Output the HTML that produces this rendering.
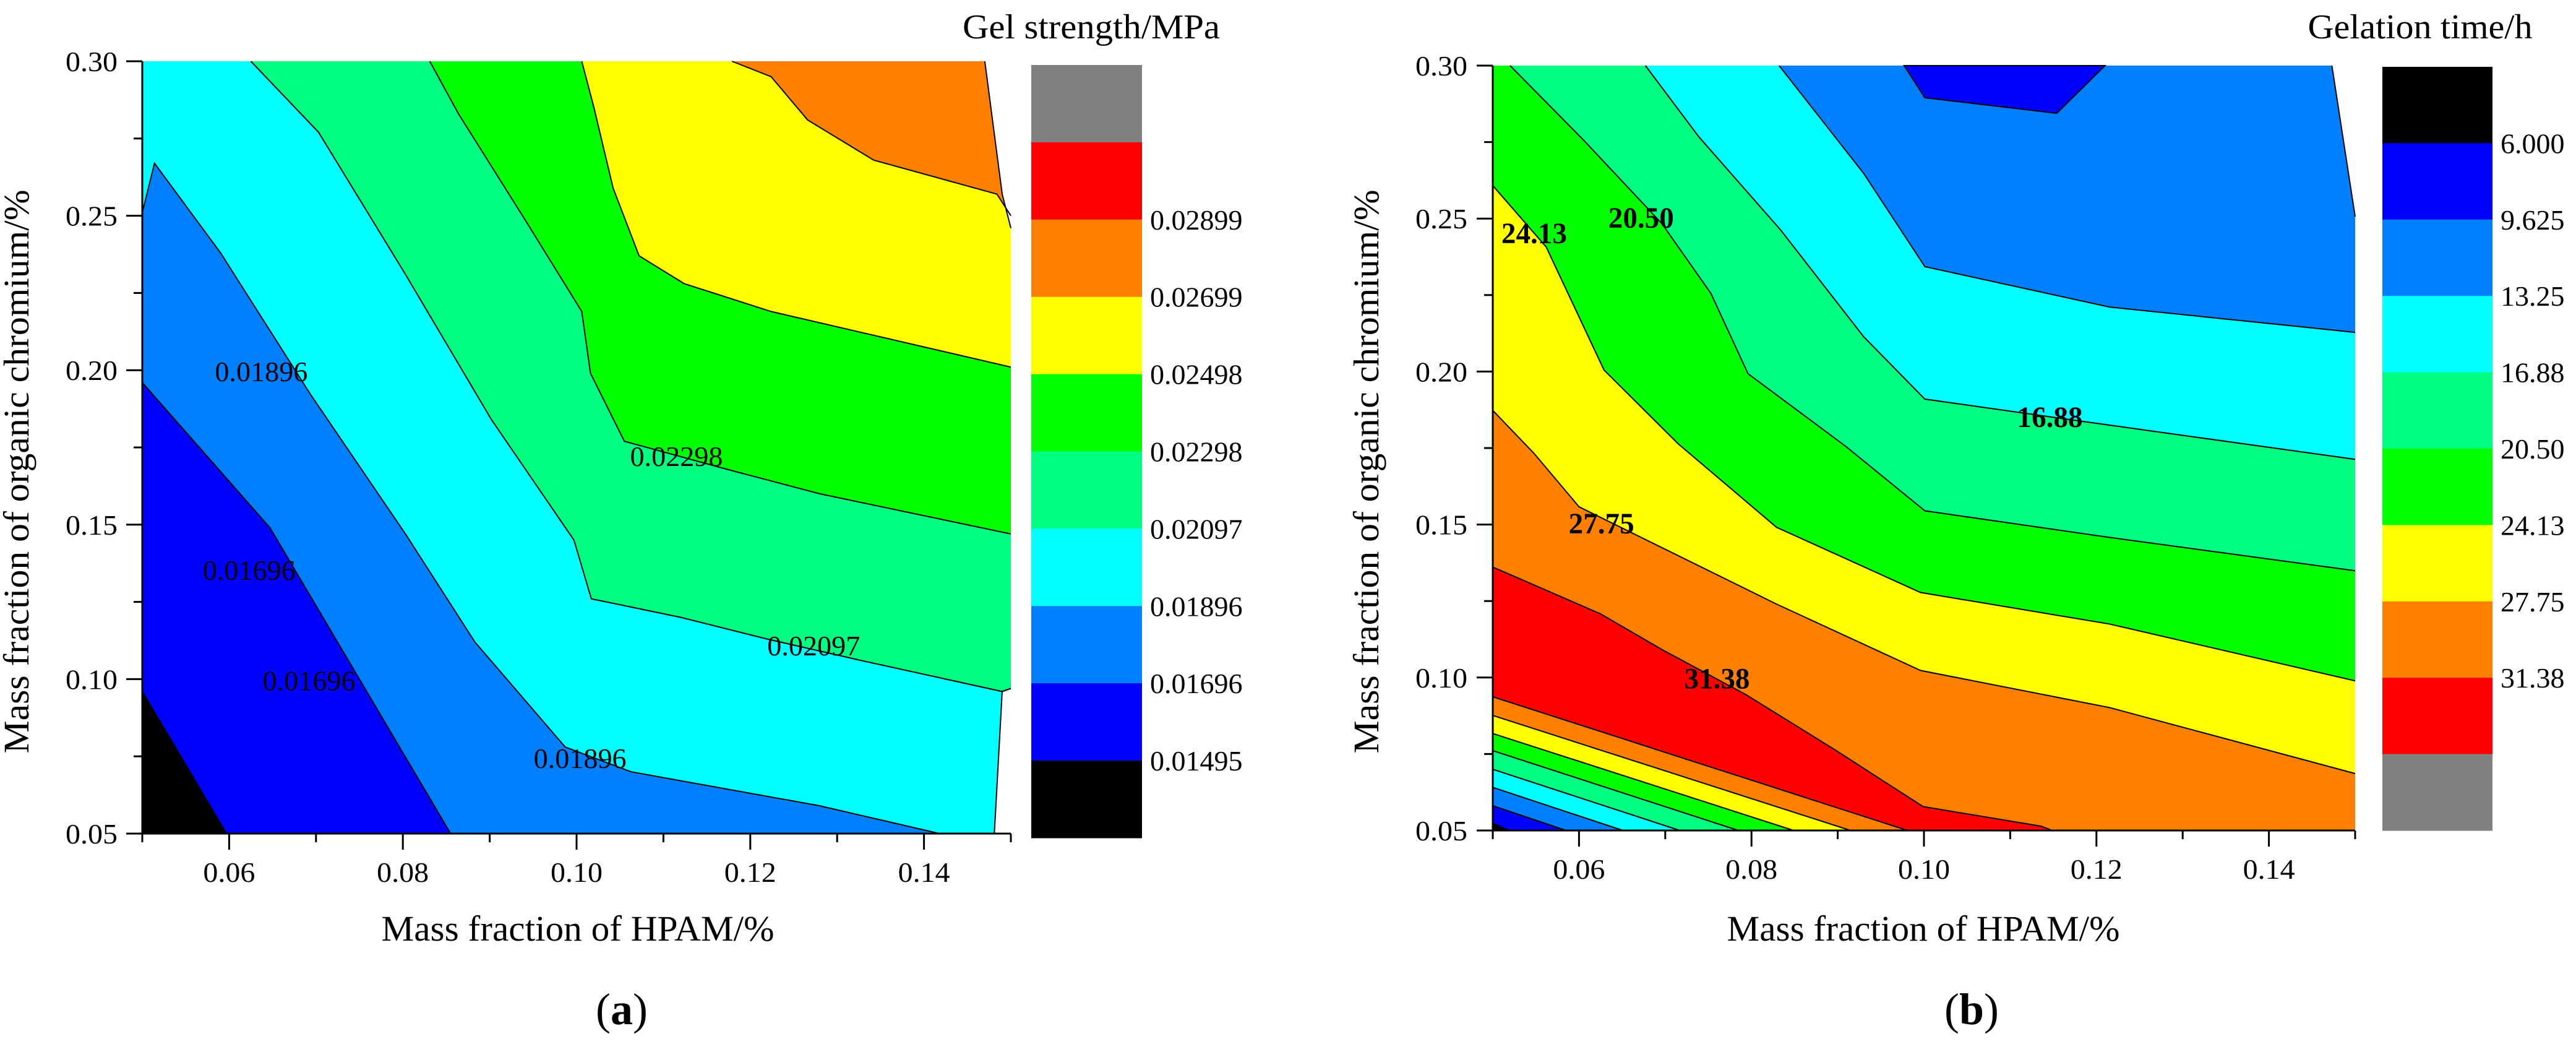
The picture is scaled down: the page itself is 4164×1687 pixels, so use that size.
<!DOCTYPE html>
<html><head><meta charset="utf-8"><style>
html,body{margin:0;padding:0;background:#fff;}
svg{display:block;font-family:"Liberation Serif",serif;}
</style></head><body>
<svg id="fig" xmlns="http://www.w3.org/2000/svg" width="4164" height="1687" viewBox="0 0 4164 1687">
<rect width="4164" height="1687" fill="#fff"/>
<g id="left"></g>
<g id="right"></g>
</svg>
<script>
// ---------- data: panel (a) ----------
const leftColors = ["#000000","#0000ff","#0080ff","#00ffff","#00ff80","#00ff00","#ffff00","#ff8000"];
const leftBarColors = ["#808080","#ff0000","#ff8000","#ffff00","#00ff00","#00ff80","#00ffff","#0080ff","#0000ff","#000000"];
const leftBarLabels = ["0.02899","0.02699","0.02498","0.02298","0.02097","0.01896","0.01696","0.01495"];
const leftL1 = [[0.05,0.096],[0.0597,0.05]];
const leftL2 = [[0.05,0.196],[0.0647,0.149],[0.0855,0.05]];
const leftL3 = [[0.05,0.251],[0.0514,0.267],[0.059,0.238],[0.0694,0.192],[0.0803,0.147],[0.0883,0.112],[0.0987,0.078],[0.1063,0.070],[0.128,0.059],[0.1418,0.05]];
const leftL4 = [[0.0625,0.30],[0.0703,0.277],[0.0803,0.231],[0.0902,0.184],[0.0997,0.145],[0.1017,0.126],[0.112,0.120],[0.1219,0.113],[0.1328,0.106],[0.149,0.096],[0.15,0.097]];
const leftL5 = [[0.0831,0.30],[0.0864,0.283],[0.094,0.249],[0.1006,0.219],[0.1016,0.199],[0.1055,0.177],[0.1172,0.168],[0.128,0.160],[0.15,0.147]];
const leftL6 = [[0.1006,0.30],[0.102,0.285],[0.1042,0.259],[0.1072,0.237],[0.1124,0.228],[0.1224,0.219],[0.15,0.201]];
const leftL7 = [[0.1179,0.30],[0.1224,0.295],[0.1266,0.281],[0.1342,0.268],[0.1484,0.257],[0.15,0.25]];
const leftWhiteTop = [[0.147,0.30],[0.149,0.257],[0.15,0.246],[0.15,0.30]];
const leftWhiteBot = [[0.15,0.097],[0.149,0.096],[0.1481,0.05],[0.15,0.05]];
const leftLabelText = ["0.01896","0.02298","0.01696","0.01696","0.02097","0.01896"];
const leftLabelX = [0.0637,0.1115,0.0623,0.0692,0.1273,0.1004];
const leftLabelY = [0.1996,0.1722,0.1353,0.0996,0.1109,0.0744];
// ---------- data: panel (b) ----------
const rightBarColors = ["#000000","#0000ff","#0080ff","#00ffff","#00ff80","#00ff00","#ffff00","#ff8000","#ff0000","#808080"];
const rightBarLabels = ["6.000","9.625","13.25","16.88","20.50","24.13","27.75","31.38"];
const rBlue = [[0.0977,0.30],[0.1001,0.2895],[0.1154,0.2844],[0.121,0.30]];
const r1325 = [[0.0832,0.30],[0.093,0.2648],[0.1001,0.2343],[0.1215,0.2211],[0.15,0.2128]];
const r1688 = [[0.0677,0.30],[0.0739,0.2767],[0.0834,0.2462],[0.093,0.2114],[0.1001,0.191],[0.1149,0.1851],[0.15,0.1713]];
const r2050 = [[0.052,0.30],[0.0605,0.2757],[0.0696,0.2484],[0.0753,0.2255],[0.0796,0.1993],[0.091,0.1754],[0.1001,0.1545],[0.1215,0.1458],[0.15,0.1349]];
const r2413 = [[0.05,0.2608],[0.0562,0.2407],[0.0629,0.2005],[0.0715,0.1764],[0.0829,0.1491],[0.0996,0.1278],[0.1215,0.1175],[0.15,0.0989]];
const r2775 = [[0.05,0.1873],[0.0548,0.1732],[0.06,0.1558],[0.0829,0.124],[0.0996,0.1023],[0.1215,0.0902],[0.15,0.0686]];
const r3138 = [[0.05,0.1361],[0.0625,0.1208],[0.0697,0.109],[0.0793,0.0945],[0.0895,0.0767],[0.0999,0.0578],[0.1136,0.0514],[0.1149,0.05]];
const rH = [[0.05,0.0937],[0.0981,0.05]];
const rG = [[0.05,0.0876],[0.0915,0.05]];
const rF = [[0.05,0.0817],[0.0849,0.05]];
const rE = [[0.05,0.0761],[0.0785,0.05]];
const rD = [[0.05,0.070],[0.0717,0.05]];
const rC = [[0.05,0.0641],[0.0651,0.05]];
const rB = [[0.05,0.0581],[0.0585,0.05]];
const rA = [[0.05,0.0524],[0.0519,0.05]];
const rightLineColors = ["#00ffff","#00ff80","#00ff00","#ffff00","#ff8000","#ff0000","#ff8000","#ffff00","#00ff00","#00ff80","#00ffff","#0080ff","#0000ff","#000000"];
const rWhite = [[0.1473,0.30],[0.15,0.2506],[0.15,0.30]];
const rightLabelText = ["24.13","20.50","16.88","27.75","31.38"];
const rightLabelX = [0.0548,0.0672,0.1146,0.0626,0.076];
const rightLabelY = [0.2452,0.2502,0.1851,0.1503,0.0997];
const xTickVals = [0.06,0.08,0.10,0.12,0.14];
const xTickText = ["0.06","0.08","0.10","0.12","0.14"];
const yTickVals = [0.05,0.10,0.15,0.20,0.25,0.30];
const yTickText = ["0.05","0.10","0.15","0.20","0.25","0.30"];

const NS="http://www.w3.org/2000/svg";
const XMIN=0.05,XMAX=0.15,YMIN=0.05,YMAX=0.30;
function mk(parent,tag,attrs){const e=document.createElementNS(NS,tag);for(const k in attrs)e.setAttribute(k,attrs[k]);parent.appendChild(e);return e;}
function tparam(p){const e=1e-4;const[x,y]=p;
 if(Math.abs(y-YMAX)<e)return (x-XMIN)/(XMAX-XMIN);
 if(Math.abs(x-XMAX)<e)return 1+(YMAX-y)/(YMAX-YMIN);
 if(Math.abs(y-YMIN)<e)return 2+(XMAX-x)/(XMAX-XMIN);
 return 3+(y-YMIN)/(YMAX-YMIN);}
const corners={1:[XMAX,YMAX],2:[XMAX,YMIN],3:[XMIN,YMIN],0:[XMIN,YMAX]};
function closeCW(line){const te=tparam(line[line.length-1]);let ts=tparam(line[0]);if(ts<=te)ts+=4;
 const pts=line.slice();for(let k=Math.floor(te)+1;k<ts;k++)pts.push(corners[k%4]);return pts;}

function panel(g,X,Y){
 return {pts:(arr)=>arr.map(p=>X(p[0]).toFixed(1)+","+Y(p[1]).toFixed(1)).join(" ")};
}
function axes(g,X,Y,ylabRight,xTitle,yTitle,xTitleCx,yTitleCx,letter,letterX){
 // ticks
 for(let v=0.05;v<=0.1501;v+=0.01){const major=Math.abs((v*100)%2)<0.01?false:true;
  const isMaj=xTickVals.some(t=>Math.abs(t-v)<1e-6);
  const t=mk(g,"line",{x1:X(v),x2:X(v),y1:Y(0.05),y2:Y(0.05)+(isMaj?26:14),stroke:"#000","stroke-width":3});
  
  }
 for(let v=0.05;v<=0.3001;v+=0.025){
  const isMaj=yTickVals.some(t=>Math.abs(t-v)<1e-6);
  const t=mk(g,"line",{x1:X(0.05),x2:X(0.05)-(isMaj?26:14),y1:Y(v),y2:Y(v),stroke:"#000","stroke-width":3});
  
  }
 const ax=mk(g,"polyline",{points:`${X(0.05)},${Y(0.30)} ${X(0.05)},${Y(0.05)} ${X(0.15)},${Y(0.05)}`,fill:"none",stroke:"#000","stroke-width":3});
 
 
 xTickVals.forEach((v,i)=>{const t=mk(g,"text",{x:X(v),y:Y(0.05)+78,"font-size":46,"text-anchor":"middle",textLength:84,lengthAdjust:"spacingAndGlyphs"});t.textContent=xTickText[i];
  
  });
 yTickVals.forEach((v,i)=>{const t=mk(g,"text",{x:ylabRight,y:Y(v)+16,"font-size":46,"text-anchor":"end",textLength:84,lengthAdjust:"spacingAndGlyphs"});t.textContent=yTickText[i];
  
  });
 const xt=mk(g,"text",{x:xTitleCx,y:1520,"font-size":58,"text-anchor":"middle",textLength:635,lengthAdjust:"spacingAndGlyphs"});xt.textContent=xTitle;
 
 
 const yt=mk(g,"text",{x:0,y:0,"font-size":58,"text-anchor":"middle",textLength:911,lengthAdjust:"spacingAndGlyphs",transform:`translate(${yTitleCx},762) rotate(-90)`});yt.textContent=yTitle;
 
 
 const lt=mk(g,"text",{x:letterX,y:1655,"font-size":72,"text-anchor":"middle"});
 lt.innerHTML='(<tspan font-weight="bold">'+letter+'</tspan>)';
 
 
}
function colorbar(g,x0,x1,y0,y1,cols,labels,labelOffset,labX,title,titleCx,titleW){
 const h=(y1-y0)/cols.length;
 cols.forEach((c,i)=>{const r=mk(g,"rect",{x:x0,y:y0+i*h,width:x1-x0,height:h+0.5,fill:c});
  
  });
 labels.forEach((l,i)=>{const t=mk(g,"text",{x:labX,y:y0+(i+labelOffset)*h+16,"font-size":46});t.textContent=l;
  
  });
 const t=mk(g,"text",{x:titleCx,y:62,"font-size":56,"text-anchor":"middle",textLength:titleW,lengthAdjust:"spacingAndGlyphs"});t.textContent=title;
 
 
}

// ---------- panel (a) ----------
(function(){
 const g=document.getElementById("left");
 const X=v=>230+(v-0.05)/0.1*1404, Y=v=>1347-(v-0.05)/0.25*1248;
 const P=panel(g,X,Y);
 const base=mk(g,"rect",{x:X(0.05),y:Y(0.30),width:X(0.15)-X(0.05),height:Y(0.05)-Y(0.30),fill:leftColors[0]});
 
 
 const lines=[leftL1,leftL2,leftL3,leftL4,leftL5,leftL6,leftL7];
 lines.forEach((ln,i)=>{const poly=closeCW(ln.slice().reverse());
  const p=mk(g,"polygon",{points:P.pts(poly),fill:leftColors[i+1]});
  
  });
 [leftWhiteTop,leftWhiteBot].forEach(w=>{const p=mk(g,"polygon",{points:P.pts(w),fill:"#fff"});
  
  });
 lines.concat([leftWhiteTop.slice(0,3),leftWhiteBot.slice(0,3)]).forEach(ln=>{const p=mk(g,"polyline",{points:P.pts(ln),fill:"none",stroke:"#000","stroke-width":2});
  
  });
 leftLabelText.forEach((s,i)=>{const t=mk(g,"text",{x:X(leftLabelX[i]),y:Y(leftLabelY[i])+16,"font-size":46,"text-anchor":"middle",textLength:150,lengthAdjust:"spacingAndGlyphs"});t.textContent=s;
  
  });
 axes(g,X,Y,190,"Mass fraction of HPAM/%","Mass fraction of organic chromium/%",934,46,"a",1005);
 colorbar(g,1667,1846,105,1354,leftBarColors,leftBarLabels,2,1859,"Gel strength/MPa",1764,416);
})();

// ---------- panel (b) ----------
(function(){
 const g=document.getElementById("right");
 const X=v=>2413+(v-0.05)/0.1*1394, Y=v=>1342-(v-0.05)/0.25*1236;
 const P=panel(g,X,Y);
 const base=mk(g,"rect",{x:X(0.05),y:Y(0.30),width:X(0.15)-X(0.05),height:Y(0.05)-Y(0.30),fill:"#0080ff"});
 
 
 const bl=mk(g,"polygon",{points:P.pts(rBlue),fill:"#0000ff",stroke:"#000","stroke-width":2});
 
 
 const lines=[r1325,r1688,r2050,r2413,r2775,r3138,rH,rG,rF,rE,rD,rC,rB,rA];
 lines.forEach((ln,i)=>{const p=mk(g,"polygon",{points:P.pts(closeCW(ln)),fill:rightLineColors[i]});
  
  });
 const w=mk(g,"polygon",{points:P.pts(rWhite),fill:"#fff"});
 
 
 lines.concat([rWhite.slice(0,2)]).forEach(ln=>{const p=mk(g,"polyline",{points:P.pts(ln),fill:"none",stroke:"#000","stroke-width":2});
  
  });
 rightLabelText.forEach((s,i)=>{const t=mk(g,"text",{x:X(rightLabelX[i]),y:Y(rightLabelY[i])+16,"font-size":48,"font-weight":"bold","text-anchor":"middle",textLength:106,lengthAdjust:"spacingAndGlyphs"});t.textContent=s;
  
  });
 axes(g,X,Y,2372,"Mass fraction of HPAM/%","Mass fraction of organic chromium/%",3109,2228,"b",3187);
 colorbar(g,3851,4029,108,1342,rightBarColors,rightBarLabels,1,4042,"Gelation time/h",3912,363);
})();
</script>
</body></html>
